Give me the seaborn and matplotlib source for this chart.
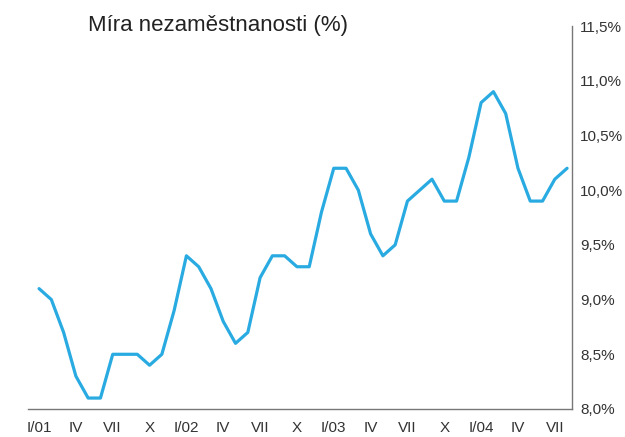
import matplotlib
matplotlib.use("Agg")
import matplotlib.pyplot as plt
import seaborn as sns
import pandas as pd
import numpy as np

months = list(range(44))
values = [9.1, 9.0, 8.7, 8.3, 8.1, 8.1, 8.5, 8.5, 8.5, 8.4, 8.5, 8.9,
          9.4, 9.3, 9.1, 8.8, 8.6, 8.7, 9.2, 9.4, 9.4, 9.3, 9.3, 9.8,
          10.2, 10.2, 10.0, 9.6, 9.4, 9.5, 9.9, 10.0, 10.1, 9.9, 9.9, 10.3,
          10.8, 10.9, 10.7, 10.2, 9.9, 9.9, 10.1, 10.2]
tick_labels = ["I/01", "IV", "VII", "X", "I/02", "IV", "VII", "X",
               "I/03", "IV", "VII", "X", "I/04", "IV", "VII"]
y_ticks = [8.0, 8.5, 9.0, 9.5, 10.0, 10.5, 11.0, 11.5]
title = "Míra nezaměstnanosti (%)"

df = pd.DataFrame({"month": months, "value": values})

sns.set_style("white")
plt.rcParams["font.family"] = ["Liberation Sans", "DejaVu Sans"]

fig = plt.figure(figsize=(6.25, 4.37), dpi=100)
ax = fig.add_axes([28/625, 1 - 409/437, (572-28)/625, (409-26)/437])

sns.lineplot(data=df, x="month", y="value", ax=ax, color="#29abe2", linewidth=2.3)

ax.set_xlim(-0.9, 43.4)
ax.set_ylim(8.0, 11.5)
ax.set_xticks(range(0, 43, 3))
ax.set_xticklabels(tick_labels)
ax.set_yticks(y_ticks)
ax.set_yticklabels([f"{v:.1f}%".replace(".", ",") for v in y_ticks])
ax.yaxis.tick_right()
ax.set_xlabel("")
ax.set_ylabel("")
for s in ["top", "left"]:
    ax.spines[s].set_visible(False)
for s in ["bottom", "right"]:
    ax.spines[s].set_color("#777777")
    ax.spines[s].set_linewidth(1.0)
ax.tick_params(axis="both", length=0, labelsize=11, colors="#333333")
ax.tick_params(axis="x", pad=9)
ax.tick_params(axis="y", pad=6)

fig.text(88/625, 1 - 26/437, title, fontsize=16, color="#222222", va="center", ha="left")

fig.savefig("out.png", dpi=100)
